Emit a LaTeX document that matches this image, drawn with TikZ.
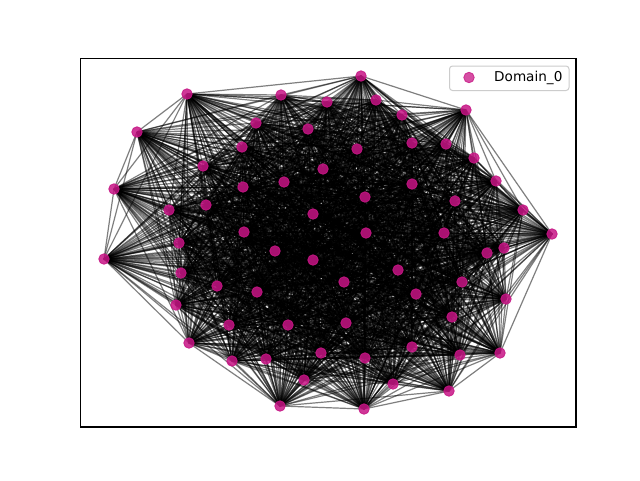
\documentclass[tikz,border=0pt]{standalone}
\usepackage{fontspec}
\setmainfont{DejaVu Sans}
\pgfdeclarelayer{bg}
\pgfdeclarelayer{edges}
\pgfsetlayers{bg,edges,main}
\definecolor{nodecol}{RGB}{199,21,133}
\definecolor{legframe}{RGB}{204,204,204}
\tikzset{
  vtx/.style={circle, fill=nodecol, fill opacity=0.85, draw=nodecol, draw opacity=0.9, line width=0.8pt, minimum size=10.5pt, inner sep=0pt},
  legvtx/.style={circle, fill=nodecol, fill opacity=0.75, draw=nodecol, draw opacity=0.8, line width=0.8pt, minimum size=10.5pt, inner sep=0pt},
  edge/.style={black, draw opacity=0.5, line width=1.2pt},
  axisframe/.style={black, line width=1.1pt},
  legbox/.style={draw=legframe, fill=white, fill opacity=0.8, line width=1pt, rounded corners=3pt},
  legtext/.style={font=\fontsize{13.6}{16}\selectfont, inner sep=0pt, anchor=west}
}
\foreach \a/\b in {6/7, 5/6, 1/5, 1/2, 2/3, 3/4, 4/8, 8/59, 59/64, 62/64, 61/62, 52/61, 7/52}
  {\global\expandafter\let\csname hull-\a-\b\endcsname\relax}
\begin{document}
\begin{tikzpicture}[x=1pt,y=-1pt]
\begin{pgfonlayer}{bg}
\fill[white] (0,0) rectangle (640,480);
\end{pgfonlayer}
\useasboundingbox (0,0) rectangle (640,480);
\foreach \k/\x/\y in {
1/187/94, 2/281/95, 3/361/76, 4/466/110, 5/137/132, 6/114/189, 7/104/259, 8/552/234,
9/523/210, 10/496/181, 11/474/158, 12/446/144, 13/402/115, 14/376/100, 15/327/102, 16/256/123,
17/308/129, 18/242/147, 19/203/166, 20/169/210, 21/206/205, 22/243/187, 23/284/182, 24/323/169,
25/357/149, 26/412/143, 27/412/184, 28/365/197, 29/313/214, 30/244/232, 31/179/243, 32/181/273,
33/176/305, 34/217/286, 35/257/292, 36/275/251, 37/313/260, 38/366/233, 39/444/233, 40/455/201,
41/504/248, 42/487/253, 43/462/282, 44/398/270, 45/344/282, 46/416/294, 47/452/317, 48/506/299,
49/346/323, 50/288/325, 51/229/325, 52/189/343, 53/232/361, 54/266/359, 55/321/353, 56/365/358,
57/412/347, 58/460/355, 59/500/353, 60/304/380, 61/280/406, 62/364/409, 63/393/384, 64/449/391}
{\node[vtx] (n\k) at (\x,\y) {};}
\begin{pgfonlayer}{edges}
\pgfmathsetseed{20240}
\foreach \i in {1,...,63}{
  \pgfmathtruncatemacro\jstart{\i+1}
  \foreach \j in {\jstart,...,64}{
    \pgfmathparse{rnd}
    \ifdim\pgfmathresult pt<0.93pt
      \draw[edge] (n\i.center) -- (n\j.center);
    \else
      \ifcsname hull-\i-\j\endcsname
        \draw[edge] (n\i.center) -- (n\j.center);
      \fi
    \fi
  }
}
\end{pgfonlayer}
\draw[axisframe] (80.5,58.5) rectangle (576,427);
\draw[legbox] (449.5,66) rectangle (569,90.5);
\node[legvtx] (legmark) at (469,77.5) {};
\node[legtext] (legtxt) at (494,78) {Domain\_0};
\end{tikzpicture}
\end{document}
